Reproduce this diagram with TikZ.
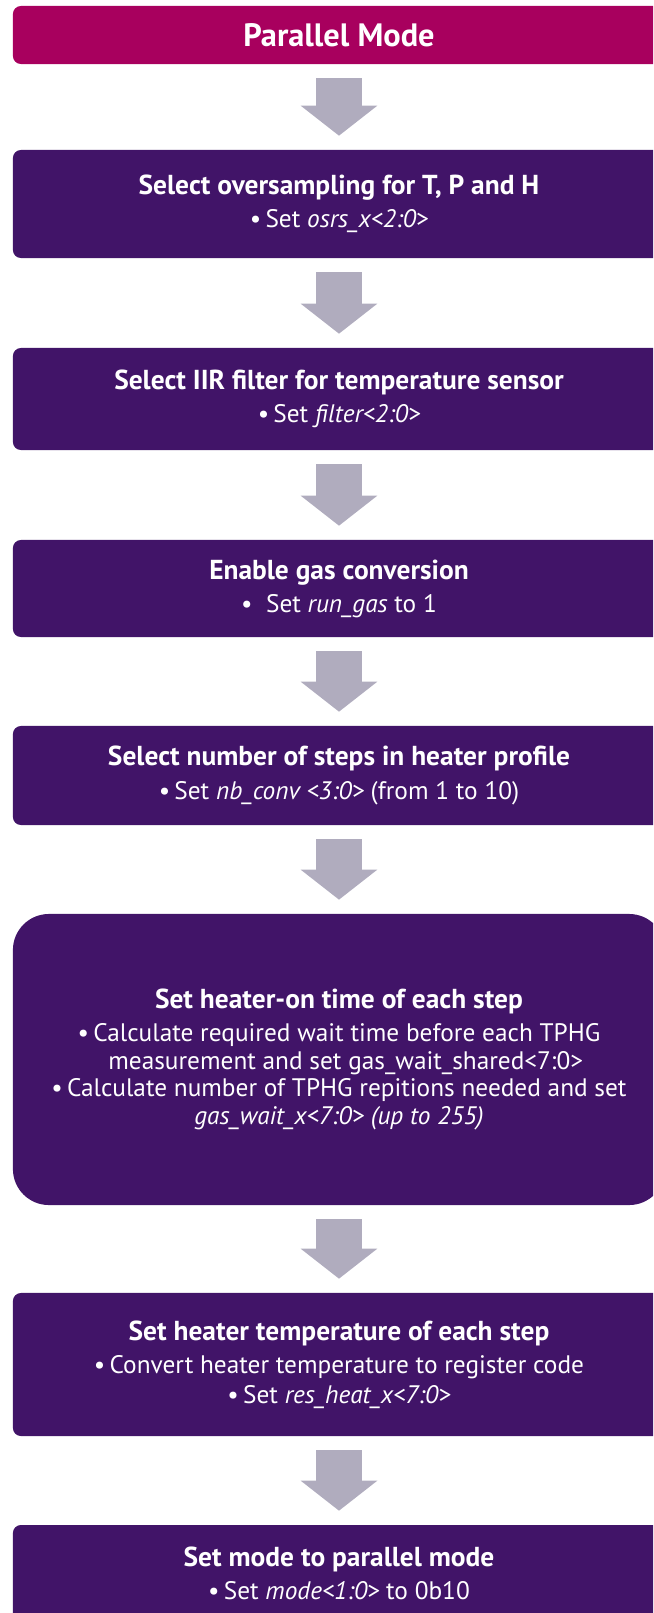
\documentclass[tikz,border=0pt]{standalone}
\usepackage{fontspec}
\setmainfont{PT Sans}
\usetikzlibrary{arrows.meta}

\definecolor{modered}{RGB}{168,0,94}
\definecolor{steppurple}{RGB}{65,20,104}
\definecolor{flowgray}{RGB}{176,172,190}
\newcommand{\stepname}[1]{{\fontsize{19.5}{20}\selectfont\bfseries #1}}

\tikzset{
  stepbox/.style={fill=steppurple, text=white, rounded corners=0.2cm,
    minimum width=16.3cm, inner sep=0pt, align=center,
    font=\fontsize{18}{19.5}\selectfont},
  modebox/.style={stepbox, fill=modered,
    font=\fontsize{23}{25}\selectfont\bfseries},
  flowarrow/.style={flowgray, line width=1.125cm,
    -{Triangle[width=1.875cm,length=0.75cm]},
    shorten <=0.35cm, shorten >=0.35cm},
}

\begin{document}
\begin{tikzpicture}[x=0.025cm, y=-0.025cm]
\useasboundingbox (0,0) rectangle (653,1613);
\clip (0,0) rectangle (653,1613);

% Header
\node[modebox, minimum height=1.45cm] (mode) at (339,35) {Parallel Mode};

% Steps
\node[stepbox, minimum height=2.7cm] (osrs) at (339,204)
  {\stepname{Select oversampling for T, P and H}\\[4pt]
   \textbullet\,Set \textit{osrs\_x<2:0>}};

\node[stepbox, minimum height=2.55cm] (filter) at (339,399)
  {\stepname{Select IIR filter for temperature sensor}\\[4pt]
   \textbullet\,Set \textit{filter<2:0>}};

\node[stepbox, minimum height=2.425cm] (rungas) at (339,588.5)
  {\stepname{Enable gas conversion}\\[4pt]
   \textbullet\ \ Set \textit{run\_gas} to 1};

\node[stepbox, minimum height=2.475cm] (nbconv) at (339,775.5)
  {\stepname{Select number of steps in heater profile}\\[4pt]
   \textbullet\,Set \textit{nb\_conv <3:0>} (from 1 to 10)};

\node[stepbox, minimum height=7.275cm, rounded corners=0.9cm] (gaswait) at (339,1059.5)
  {\stepname{Set heater-on time of each step}\\[4pt]
   \textbullet\,Calculate required wait time before each TPHG\\
   \ \ measurement and set gas\_wait\_shared<7:0>\\
   \textbullet\,Calculate number of TPHG repitions needed and set\\
   \textit{gas\_wait\_x<7:0> (up to 255)}};

\node[stepbox, minimum height=3.575cm] (resheat) at (339,1364.5)
  {\stepname{Set heater temperature of each step}\\[4pt]
   \textbullet\,Convert heater temperature to register code\\[2pt]
   \textbullet\,Set \textit{res\_heat\_x<7:0>}};

\node[stepbox, minimum height=2.425cm] (setmode) at (339,1573.5)
  {\stepname{Set mode to parallel mode}\\[4pt]
   \textbullet\,Set \textit{mode<1:0>} to 0b10};

% Flow arrows
\draw[flowarrow] (mode.south) -- (osrs.north);
\draw[flowarrow] (osrs.south) -- (filter.north);
\draw[flowarrow] (filter.south) -- (rungas.north);
\draw[flowarrow] (rungas.south) -- (nbconv.north);
\draw[flowarrow] (nbconv.south) -- (gaswait.north);
\draw[flowarrow] (gaswait.south) -- (resheat.north);
\draw[flowarrow] (resheat.south) -- (setmode.north);
\end{tikzpicture}
\end{document}
